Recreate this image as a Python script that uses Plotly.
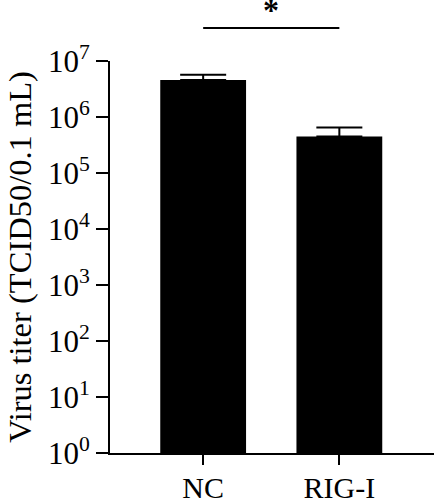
import plotly.graph_objects as go

categories = ["NC", "RIG-I"]
titer_mean = [4.6e6, 4.5e5]
titer_err = [1.1e6, 2.0e5]
ytick_vals = [1, 10, 100, 1e3, 1e4, 1e5, 1e6, 1e7]
ytick_text = ["10<sup>%d</sup>" % i for i in range(8)]
sig_label = "*"

FONT = "Liberation Serif, Times New Roman, serif"

fig = go.Figure()
fig.add_trace(go.Bar(
    x=categories, y=titer_mean, width=0.63,
    marker=dict(color="black", line=dict(width=0)),
    error_y=dict(type="data", array=titer_err, arrayminus=[0, 0], symmetric=False,
                 color="black", thickness=2, width=23),
))

fig.update_layout(
    width=434, height=500,
    margin=dict(l=110, r=0, t=61, b=47, autoexpand=False),
    paper_bgcolor="white", plot_bgcolor="white",
    showlegend=False,
    font=dict(family=FONT, color="black", size=30),
    xaxis=dict(
        range=[-0.684, 1.695], showline=True, linecolor="black", linewidth=2,
        ticks="outside", ticklen=10, tickwidth=2, tickcolor="black",
        tickfont=dict(size=30, family=FONT), showgrid=False, zeroline=False,
        ticklabelstandoff=-3,
    ),
    yaxis=dict(
        type="log", range=[0, 7], showline=True, linecolor="black", linewidth=2,
        ticks="outside", ticklen=12, tickwidth=2, tickcolor="black",
        tickvals=ytick_vals, ticktext=ytick_text, tickfont=dict(size=31, family=FONT),
        showgrid=False, zeroline=False,
        title=dict(text="Virus titer (TCID50/0.1 mL)", font=dict(size=32.5, family=FONT), standoff=7),
    ),
)

fig.add_shape(type="line", xref="x", yref="paper", x0=0, x1=1, y0=1.084, y1=1.084,
              line=dict(color="black", width=2))
fig.add_annotation(x=0.5, xref="x", yref="paper", y=1.13, text="<b>%s</b>" % sig_label, showarrow=False,
                   font=dict(size=32, family=FONT, color="black"), yanchor="middle")

fig.write_html("out.html", config={"displayModeBar": False},
               post_script="document.body.style.margin='0';")
